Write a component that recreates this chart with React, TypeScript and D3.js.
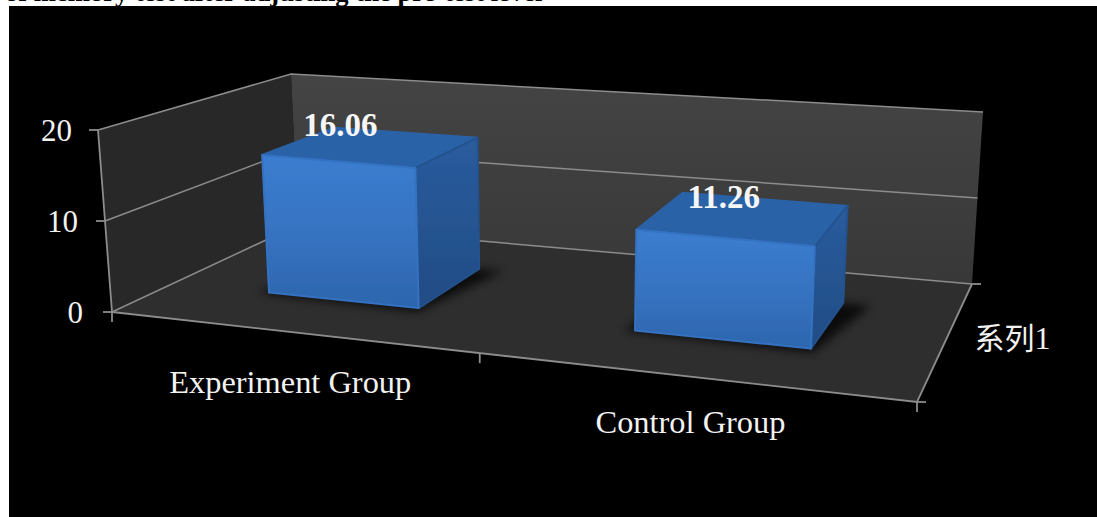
import React from "react";
import * as d3 from "d3";

const W = 1097, H = 517;
const categories = ["Experiment Group", "Control Group"];
const seriesNames = ["系列1"];
const values = [16.06, 11.26];
const valueTicks = [0, 10, 20];
const titleClipped = "of memory test after adjusting the pre-test level";

type P = [number, number];
// Projected corners of the chart box: floor plane and the plane of the axis maximum
const floorCorners: P[] = [[112, 312], [917, 402], [972, 284], [298, 225]];
const ceilCorners: P[] = [[98, 130], [927, 208], [983, 112], [291, 74]];

function homography(c: P[]) {
  const [p0, p1, p2, p3] = c;
  const dx1 = p1[0] - p2[0], dy1 = p1[1] - p2[1];
  const dx2 = p3[0] - p2[0], dy2 = p3[1] - p2[1];
  const sx = p0[0] - p1[0] + p2[0] - p3[0], sy = p0[1] - p1[1] + p2[1] - p3[1];
  const det = dx1 * dy2 - dy1 * dx2;
  const g = (sx * dy2 - sy * dx2) / det;
  const h = (dx1 * sy - dy1 * sx) / det;
  const a = p1[0] - p0[0] + g * p1[0], b = p3[0] - p0[0] + h * p3[0];
  const d = p1[1] - p0[1] + g * p1[1], e = p3[1] - p0[1] + h * p3[1];
  return (u: number, v: number): P => {
    const w = g * u + h * v + 1;
    return [(a * u + b * v + p0[0]) / w, (d * u + e * v + p0[1]) / w];
  };
}
const floorMap = homography(floorCorners);

const yScale = d3.scaleLinear().domain([0, 20]).range([0, 1]);
const barYScale = d3.scaleLinear().domain([0, 20]).range([0, 0.98]);
const xBand = d3.scaleBand<string>().domain(categories).range([0, 1]).paddingInner(0.572).paddingOuter(0.286);
const zBand = d3.scaleBand<string>().domain(seriesNames).range([0, 1]).paddingInner(0).paddingOuter(0.72);

function rise(u: number, v: number, k: 0 | 1): number {
  const d = floorCorners.map((p, i) => ceilCorners[i][k] - p[k]);
  return (1 - v) * ((1 - u) * d[0] + u * d[1]) + v * ((1 - u) * d[3] + u * d[2]);
}
function placeAt(u: number, v: number, t: number): P {
  const a = floorMap(u, v);
  return [a[0] + rise(u, v, 0) * t, a[1] + rise(u, v, 1) * t];
}
const project = (u: number, v: number, val: number): P => placeAt(u, v, yScale(val));
const projectBar = (u: number, v: number, val: number): P => placeAt(u, v, barYScale(val));
const poly = (pts: P[]) => (d3.line()(pts) as string) + "Z";

const gridColor = "#8c8c8c";
const textColor = "#f2f2f2";
const serif = "'Liberation Serif', serif";
const valueLabelDx = [-29, -27, -26];
const categoryLabelDy = [61, 57];
const barLabelDx = [-32, -21];
const barLabelDy = -10;

export default function App() {
  const top = valueTicks[valueTicks.length - 1];
  const bars = categories.map((c, i) => {
    const u0 = xBand(c) as number, u1 = u0 + xBand.bandwidth();
    const v0 = zBand(seriesNames[0]) as number, v1 = v0 + zBand.bandwidth();
    const val = values[i];
    return {
      c, val, i,
      front: [projectBar(u0, v0, val), projectBar(u1, v0, val), projectBar(u1, v0, 0), projectBar(u0, v0, 0)] as P[],
      side: [projectBar(u1, v0, val), projectBar(u1, v1, val), projectBar(u1, v1, 0), projectBar(u1, v0, 0)] as P[],
      topFace: [projectBar(u0, v0, val), projectBar(u1, v0, val), projectBar(u1, v1, val), projectBar(u0, v1, val)] as P[],
      shadow: [projectBar(u0 - 0.012, v0 - 0.01, 0), projectBar(u1 + 0.005, v0 - 0.03, 0), projectBar(u1 + 0.035, v1, 0), projectBar(u0, v1, 0)] as P[],
      labelAt: projectBar((u0 + u1) / 2, (v0 + v1) / 2, val),
    };
  });

  return (
    <svg width={W} height={H} viewBox={`0 0 ${W} ${H}`} style={{ position: "absolute", left: 0, top: 0, background: "#fff" }}>
      <defs>
        <linearGradient id="backWall" x1="0" y1="0" x2="0" y2="1">
          <stop offset="0" stopColor="#444444" />
          <stop offset="1" stopColor="#383838" />
        </linearGradient>
        <linearGradient id="frontFace" x1="0" y1="0" x2="0" y2="1">
          <stop offset="0" stopColor="#3b7dd0" />
          <stop offset="0.55" stopColor="#3672c0" />
          <stop offset="1" stopColor="#2c65ad" />
        </linearGradient>
        <linearGradient id="sideFace" x1="0" y1="0" x2="0" y2="1">
          <stop offset="0" stopColor="#2a5c9e" />
          <stop offset="1" stopColor="#204c84" />
        </linearGradient>
        <filter id="blur" x="-20%" y="-20%" width="140%" height="140%">
          <feGaussianBlur stdDeviation="5" />
        </filter>
        <filter id="soft" x="-5%" y="-5%" width="110%" height="110%">
          <feGaussianBlur stdDeviation="0.6" />
        </filter>
      </defs>
      <text x={5} y={1} fontFamily={serif} fontWeight="bold" fontSize={26.6} fill="#000">{titleClipped}</text>
      <rect x={9} y={6} width={W - 9} height={H - 6} fill="#000" />

      {/* walls and floor */}
      <path d={poly([project(0, 0, 0), project(0, 1, 0), project(0, 1, top), project(0, 0, top)])} fill="#282828" />
      <path d={poly([project(0, 1, 0), project(1, 1, 0), project(1, 1, top), project(0, 1, top)])} fill="url(#backWall)" />
      <path d={poly([project(0, 0, 0), project(1, 0, 0), project(1, 1, 0), project(0, 1, 0)])} fill="#2e2e2e" />

      {/* gridlines */}
      {valueTicks.map((t) => {
        const a = project(0, 0, t), b = project(0, 1, t), c = project(1, 1, t);
        return <path key={t} d={d3.line()([a, b, c]) as string} fill="none" stroke={gridColor} strokeWidth={1.5} />;
      })}

      {/* axes */}
      <path d={d3.line()([project(0, 0, 0), project(0, 0, top)]) as string} stroke={gridColor} strokeWidth={1.8} fill="none" />
      <path d={d3.line()([project(0, 0, 0), project(1, 0, 0), project(1, 1, 0)]) as string} stroke={gridColor} strokeWidth={1.8} fill="none" />
      {valueTicks.map((t) => {
        const p = project(0, 0, t);
        return <line key={t} x1={p[0] - 9} y1={p[1]} x2={p[0]} y2={p[1]} stroke={gridColor} strokeWidth={1.8} />;
      })}
      {[0, 0.5, 1].map((u) => {
        const p = project(u, 0, 0);
        return <line key={u} x1={p[0]} y1={p[1]} x2={p[0]} y2={p[1] + 10} stroke={gridColor} strokeWidth={1.8} />;
      })}
      {[0, 1].map((v) => {
        const p = project(1, v, 0);
        return <line key={v} x1={p[0]} y1={p[1]} x2={p[0] + 9} y2={p[1]} stroke={gridColor} strokeWidth={1.8} />;
      })}

      {/* bars */}
      {bars.map((b) => (
        <g key={b.c}>
          <path d={poly(b.shadow)} fill="#000" opacity={0.75} filter="url(#blur)" />
          <g filter="url(#soft)">
            <path d={poly(b.topFace)} fill="#2a62a8" stroke="#2a62a8" strokeWidth={2} strokeLinejoin="round" />
            <path d={poly(b.side)} fill="url(#sideFace)" stroke="#24528e" strokeWidth={2} strokeLinejoin="round" />
            <path d={poly(b.front)} fill="url(#frontFace)" stroke="#3472c2" strokeWidth={2} strokeLinejoin="round" />
          </g>
        </g>
      ))}

      {/* value labels */}
      {bars.map((b) => (
        <text key={b.c} x={b.labelAt[0] + barLabelDx[b.i]} y={b.labelAt[1] + barLabelDy} textAnchor="middle" fontFamily={serif} fontWeight="bold" fontSize={33} fill="#f6f6f6">
          {b.val.toFixed(2)}
        </text>
      ))}

      {/* axis text */}
      {valueTicks.map((t, i) => {
        const p = project(0, 0, t);
        return (
          <text key={t} x={p[0] + valueLabelDx[i]} y={p[1] + 11} textAnchor="end" fontFamily={serif} fontSize={31} fill={textColor}>
            {t}
          </text>
        );
      })}
      {categories.map((c, i) => {
        const u = (xBand(c) as number) + xBand.bandwidth() / 2;
        const p = project(u, 0, 0);
        return (
          <text key={c} x={p[0] + 2} y={p[1] + categoryLabelDy[i]} textAnchor="middle" fontFamily={serif} fontSize={32.4} fill={textColor}>
            {c}
          </text>
        );
      })}
      {seriesNames.map((s) => {
        const p = project(1, 0.5, 0);
        return (
          <text key={s} x={p[0] + 27} y={p[1] + 12} fontFamily="'Noto Sans CJK SC', serif" fontSize={30} fill={textColor}>
            系列<tspan fontFamily={serif} fontSize={32}>1</tspan>
          </text>
        );
      })}
    </svg>
  );
}
